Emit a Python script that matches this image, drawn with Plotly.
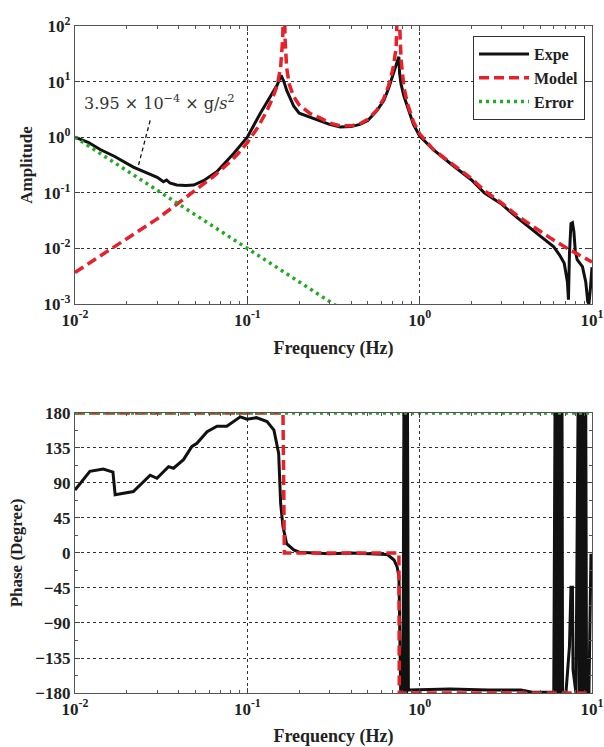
import plotly.graph_objects as go

# ---------------- amplitude (Bode magnitude) ----------------
model_f = [0.01, 0.02, 0.03, 0.041, 0.053, 0.064, 0.076, 0.088, 0.1, 0.115, 0.13, 0.14,
           0.149, 0.156, 0.1605, 0.163, 0.1655, 0.169, 0.175, 0.185, 0.2, 0.23, 0.266, 0.3,
           0.346, 0.4, 0.45, 0.5, 0.565, 0.62, 0.66, 0.7, 0.73, 0.748, 0.755, 0.762, 0.78,
           0.81, 0.85, 0.92, 1.0, 1.2, 1.52, 2.0, 2.37, 3.0, 3.71, 4.5, 5.8, 7.0, 8.5, 10]
model_amp = [0.0037, 0.015, 0.034, 0.07, 0.125, 0.2, 0.32, 0.5, 0.8, 1.5, 3.0, 5.0,
             8.5, 18, 60, 1000, 60, 18, 9, 5.5, 3.8, 2.7, 2.2, 1.8,
             1.6, 1.6, 1.75, 2.1, 3.1, 5.0, 8.5, 17, 40, 150, 1000, 150, 25,
             8, 4, 1.9, 1.15, 0.6, 0.34, 0.18, 0.11, 0.065, 0.038, 0.025, 0.015, 0.0105, 0.0075, 0.0057]

expe_f = [0.01, 0.012, 0.014, 0.017, 0.0218, 0.0273, 0.03, 0.0326, 0.034, 0.0355, 0.0389,
          0.044, 0.0488, 0.0557, 0.0665, 0.0833, 0.1, 0.119, 0.136, 0.149, 0.157, 0.163,
          0.169, 0.186, 0.2, 0.23, 0.266, 0.3, 0.346, 0.4, 0.45, 0.5, 0.565, 0.62, 0.66,
          0.7, 0.73, 0.748, 0.757, 0.765, 0.78, 0.81, 0.85, 0.92, 1.0, 1.2, 1.52, 2.0, 2.37,
          3.0, 3.71, 4.5, 5.3, 6.0, 6.5, 6.9, 7.2, 7.3, 7.4, 7.55, 7.7, 7.85, 8.0, 8.2,
          8.8, 9.2, 9.45, 9.6, 9.8, 10]
expe_amp = [1.0, 0.8, 0.6, 0.45, 0.29, 0.22, 0.19, 0.158, 0.17, 0.15, 0.138,
            0.135, 0.138, 0.165, 0.24, 0.51, 1.0, 2.7, 5.4, 8.7, 13, 10,
            7, 3.6, 2.7, 2.3, 2.0, 1.7, 1.52, 1.55, 1.7, 2.0, 3.0, 4.6, 7.5,
            13, 20, 25, 28, 14, 9, 5.5, 3.5, 1.7, 1.05, 0.6, 0.33, 0.17, 0.1,
            0.062, 0.035, 0.022, 0.015, 0.0107, 0.0075, 0.0054, 0.0025, 0.0012, 0.008, 0.028, 0.029, 0.02, 0.009, 0.0063,
            0.0047, 0.0025, 0.0011, 0.001, 0.002, 0.0046]

error_f = [0.01, 0.1, 1.0]
error_amp = [1.0, 0.01, 0.0001]

# ---------------- phase ----------------
phase_expe_f = [0.01, 0.0122, 0.0146, 0.0166, 0.0171, 0.019, 0.0218, 0.0273, 0.0299, 0.0349,
                0.0373, 0.0426, 0.0477, 0.051, 0.0584, 0.0667, 0.076, 0.091, 0.0996, 0.1128,
                0.1301, 0.1427, 0.152, 0.156, 0.161, 0.169, 0.186, 0.2, 0.3, 0.4, 0.5, 0.6,
                0.65, 0.71, 0.74, 0.758, 0.776, 0.80, 0.81, 0.82, 0.83, 0.84, 0.85, 0.86,
                1.5, 2.5, 3.86, 4.5, 6.0, 6.1, 6.2, 6.3, 6.4, 6.5, 6.6, 6.7, 6.75,
                7.06, 7.2, 7.4, 7.55, 7.7, 7.76, 8.07, 8.3, 8.45, 8.6, 8.75, 8.9, 9.05, 9.2,
                9.3, 9.6, 9.86, 10]
phase_expe = [81, 105, 108, 104, 75, 77, 79, 100, 96, 111,
              109, 120, 137, 141, 156, 163, 163, 175, 172, 174,
              169, 158, 128, 64, 34, 12, 4, 1, -1, 0, -1, -1,
              -2, -9, -18, -30, -178, -178, 180, -180, 180, -180, 180, -176,
              -175, -176, -176, -179, -179, 180, -180, 180, -180, 180, -180, 180, -180,
              -180, -150, -120, -44, -44, -150, -180, 180, -180, 180, -180, 180, -180, 180,
              -180, -180, -3, -3]

phase_model_f = [0.01, 0.161, 0.164, 0.758, 0.762, 10]
phase_model = [180, 180, 0, 0, -180, -180]

phase_error_f = [0.01, 10]
phase_error = [180, 180]

# tick labels
x_tickvals = [0.01, 0.1, 1, 10]
x_ticktext = ["10<sup>-2</sup>", "10<sup>-1</sup>", "10<sup>0</sup>", "10<sup>1</sup>"]
amp_tickvals = [0.001, 0.01, 0.1, 1, 10, 100]
amp_ticktext = ["10<sup>-3</sup>", "10<sup>-2</sup>", "10<sup>-1</sup>",
                "10<sup>0</sup>", "10<sup>1</sup>", "10<sup>2</sup>"]
phase_tickvals = [180, 135, 90, 45, 0, -45, -90, -135, -180]

# leader line of the fitted error-term note
note_x = [0.0273, 0.0232]
note_y = [2.0, 0.29]

BLACK = "#111111"
RED = "#e8202a"
GREEN = "#22aa22"
SERIF = "Liberation Serif"

fig = go.Figure()

fig.add_trace(go.Scatter(x=expe_f, y=expe_amp, name="Expe", mode="lines",
                         line=dict(color=BLACK, width=3), xaxis="x", yaxis="y"))
fig.add_trace(go.Scatter(x=model_f, y=model_amp, name="Model", mode="lines",
                         line=dict(color=RED, width=3.5, dash="10px,5px"), xaxis="x", yaxis="y"))
fig.add_trace(go.Scatter(x=error_f, y=error_amp, name="Error", mode="lines",
                         line=dict(color=GREEN, width=3.5, dash="3px,4px"), xaxis="x", yaxis="y"))
fig.add_trace(go.Scatter(x=note_x, y=note_y, mode="lines", showlegend=False, hoverinfo="skip",
                         line=dict(color=BLACK, width=1.3, dash="4px,3px"), xaxis="x", yaxis="y"))

fig.add_trace(go.Scatter(x=phase_expe_f, y=phase_expe, mode="lines", showlegend=False,
                         line=dict(color=BLACK, width=3), xaxis="x2", yaxis="y2"))
fig.add_trace(go.Scatter(x=phase_model_f, y=phase_model, mode="lines", showlegend=False,
                         line=dict(color=RED, width=3.5, dash="10px,5px"), xaxis="x2", yaxis="y2"))
fig.add_trace(go.Scatter(x=phase_error_f, y=phase_error, mode="lines", showlegend=False,
                         line=dict(color=GREEN, width=3.5, dash="3px,4px"), xaxis="x2", yaxis="y2"))

minor_log = [m * d for d in (0.01, 0.1, 1) for m in range(2, 10)]

tick_font = dict(family=SERIF, size=17, color="#222222", weight="bold")
xtitle_font = dict(family=SERIF, size=18, color="#222222", weight="bold")
ytitle_font = dict(family=SERIF, size=17, color="#222222", weight="bold")

common_x = dict(
    type="log", range=[-2, 1], tickmode="array", tickvals=x_tickvals, ticktext=x_ticktext,
    tickfont=tick_font, ticks="inside", ticklen=5, tickcolor="#444444",
    showline=True, linecolor="#555555", linewidth=1.2, mirror="ticks",
    showgrid=True, gridcolor="#333333", griddash="dot", gridwidth=1,
    minor=dict(tickmode="array", tickvals=minor_log, ticks="inside", ticklen=3,
               tickcolor="#555555", showgrid=False),
    zeroline=False, automargin=False,
)

fig.update_layout(
    width=604, height=747,
    margin=dict(l=75, r=12, t=26, b=54),
    paper_bgcolor="white", plot_bgcolor="white",
    showlegend=True,
    xaxis=dict(common_x, anchor="y",
               title=dict(text="Frequency (Hz)", font=xtitle_font, standoff=12)),
    yaxis=dict(type="log", range=[-3, 2], domain=[0.5832, 1], anchor="x",
               tickmode="array", tickvals=amp_tickvals, ticktext=amp_ticktext,
               tickfont=tick_font, ticks="inside", ticklen=5, tickcolor="#444444",
               showline=True, linecolor="#555555", linewidth=1.2, mirror="ticks",
               showgrid=True, gridcolor="#333333", griddash="dot", gridwidth=1,
               zeroline=False, automargin=False,
               title=dict(text="Amplitude", font=ytitle_font, standoff=6)),
    xaxis2=dict(common_x, anchor="y2",
                title=dict(text="Frequency (Hz)", font=xtitle_font, standoff=13)),
    yaxis2=dict(range=[-180, 180], domain=[0, 0.4198], anchor="x2",
                tickmode="array", tickvals=phase_tickvals,
                tickfont=tick_font, ticks="inside", ticklen=5, tickcolor="#444444",
                showline=True, linecolor="#555555", linewidth=1.2, mirror="ticks",
                showgrid=True, gridcolor="#333333", griddash="dot", gridwidth=1,
                minor=dict(tickmode="linear", tick0=-180, dtick=22.5, ticks="inside",
                           ticklen=3, tickcolor="#555555", showgrid=False),
                zeroline=False, automargin=False,
                title=dict(text="Phase (Degree)", font=ytitle_font, standoff=8)),
    legend=dict(x=0.9865, y=0.985, xanchor="right", yanchor="top",
                bgcolor="white", bordercolor="#333333", borderwidth=1,
                font=dict(family=SERIF, size=16, color="#222222", weight="bold"),
                itemwidth=50, tracegroupgap=0),
    annotations=[dict(
        text="3.95 × 10<sup>−4</sup> × g/<i>s</i><sup>2</sup>",
        xref="paper", yref="paper", x=0.0135, y=0.8846,
        xanchor="left", yanchor="middle", showarrow=False,
        font=dict(family="DejaVu Serif", size=16, color="#333333"),
    )],
)

fig.write_html("out.html")
